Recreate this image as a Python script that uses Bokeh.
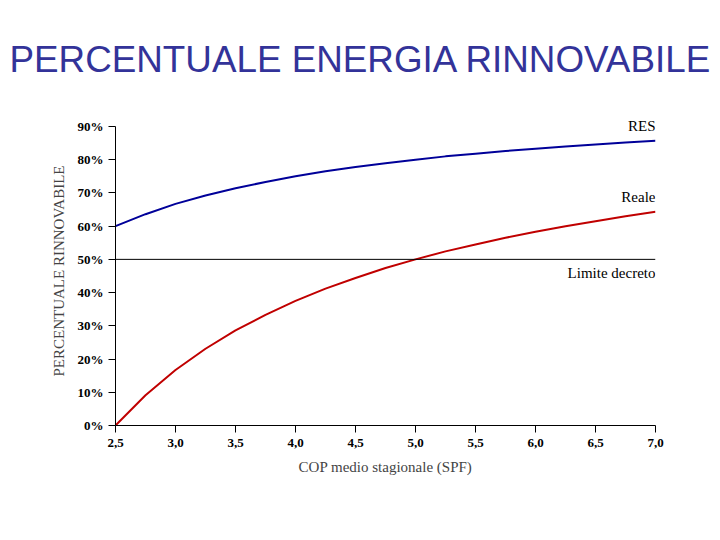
from bokeh.plotting import figure
from bokeh.models import FixedTicker, Label, Span, Title
from bokeh.embed import file_html
from bokeh.resources import INLINE

spf = [2.5, 2.75, 3.0, 3.25, 3.5, 3.75, 4.0, 4.25, 4.5, 4.75, 5.0,
       5.25, 5.5, 5.75, 6.0, 6.25, 6.5, 6.75, 7.0]
res = [60.0, 63.6, 66.7, 69.2, 71.4, 73.3, 75.0, 76.5, 77.8, 78.9, 80.0,
       81.0, 81.8, 82.6, 83.3, 84.0, 84.6, 85.2, 85.7]
reale = [0.0, 9.1, 16.7, 23.1, 28.6, 33.3, 37.5, 41.2, 44.4, 47.4, 50.0,
         52.4, 54.5, 56.5, 58.3, 60.0, 61.5, 63.0, 64.3]
limite = 50.0
x_ticks = [2.5, 3.0, 3.5, 4.0, 4.5, 5.0, 5.5, 6.0, 6.5, 7.0]
x_tick_labels = ["2,5", "3,0", "3,5", "4,0", "4,5", "5,0", "5,5", "6,0", "6,5", "7,0"]
y_ticks = [0, 10, 20, 30, 40, 50, 60, 70, 80, 90]
y_tick_labels = ["0%", "10%", "20%", "30%", "40%", "50%", "60%", "70%", "80%", "90%"]

serif = "Liberation Serif"

p = figure(width=712, height=520, output_backend="svg", toolbar_location=None,
           x_range=(2.5, 7.0), y_range=(0, 93),
           min_border_left=115, min_border_right=57, min_border_top=116,
           min_border_bottom=95)
p.frame_width = 540
p.frame_height = 309
p.outline_line_color = None
p.grid.visible = False
p.background_fill_color = "white"

t = Title(text="PERCENTUALE ENERGIA RINNOVABILE", align="left", offset=-106,
          text_font="Liberation Sans", text_font_size="36.8px",
          text_font_style="normal", text_color="#333399", standoff=73)
p.add_layout(t, "above")

p.line(spf, res, line_color="#000099", line_width=2)
p.line(spf, reale, line_color="#C00000", line_width=2)
p.add_layout(Span(location=limite, dimension="width", line_color="black", line_width=1))

for ax in (p.xaxis, p.yaxis):
    ax.axis_line_color = "black"
    ax.major_tick_line_color = "black"
    ax.minor_tick_line_color = None
    ax.major_tick_in = 0
    ax.major_tick_out = 7
    ax.major_label_text_font = serif
    ax.major_label_text_font_style = "bold"
    ax.major_label_text_font_size = "13px"
    ax.major_label_text_color = "black"
    ax.axis_label_text_font = serif
    ax.axis_label_text_font_style = "normal"
    ax.axis_label_text_font_size = "15px"

p.yaxis.bounds = (0, 90)
p.xaxis.ticker = FixedTicker(ticks=x_ticks)
p.xaxis.major_label_overrides = {k: v for k, v in zip(x_ticks, x_tick_labels)}
p.yaxis.ticker = FixedTicker(ticks=y_ticks)
p.yaxis.major_label_overrides = {k: v for k, v in zip(y_ticks, y_tick_labels)}
p.xaxis.axis_label = "COP medio stagionale (SPF)"
p.yaxis.axis_label = "PERCENTUALE RINNOVABILE"
p.xaxis.major_label_standoff = 6
p.yaxis.major_label_standoff = 5
p.xaxis.axis_label_standoff = 9
p.yaxis.axis_label_standoff = 8

for txt, yv in (("RES", 90.0), ("Reale", 68.9), ("Limite decreto", 46.0)):
    p.add_layout(Label(x=7.0, y=yv, text=txt, text_align="right",
                       text_baseline="middle", text_font=serif,
                       text_font_size="15px", text_color="black"))

open("out.html", "w").write(file_html(p, INLINE))
